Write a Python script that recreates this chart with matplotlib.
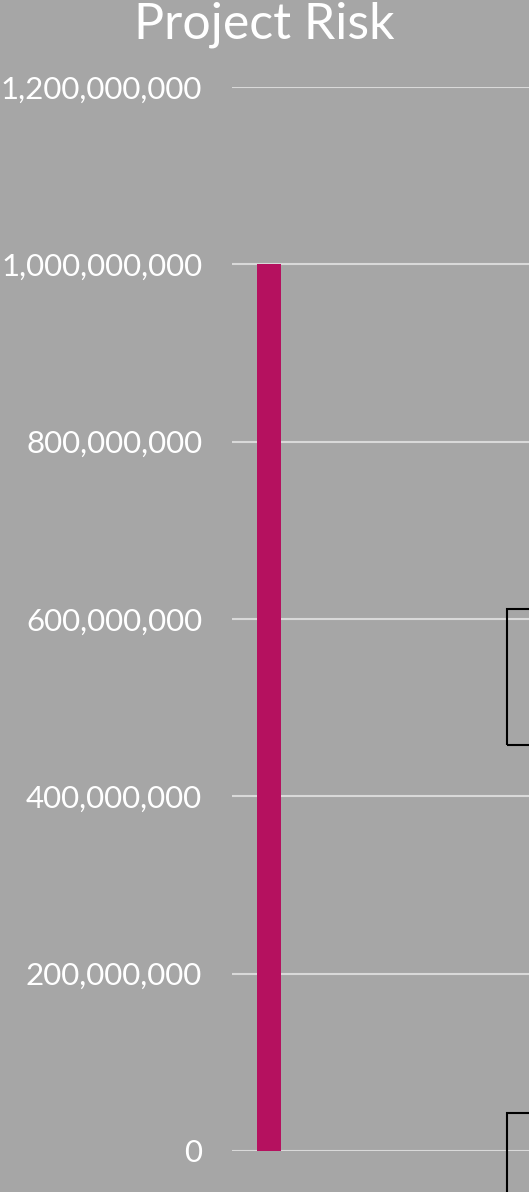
import matplotlib
matplotlib.use("Agg")
import matplotlib.pyplot as plt
from matplotlib.patches import Rectangle
from matplotlib.ticker import FuncFormatter

# data
categories = ["Risk"]
values = [1_000_000_000]
y_ticks = [0, 200_000_000, 400_000_000, 600_000_000, 800_000_000,
           1_000_000_000, 1_200_000_000]

bg = "#A6A6A6"
bar_color = "#B5115F"
grid_color = "#D9D9D9"

plt.rcParams['font.family'] = ['Lato', 'DejaVu Sans']

W, H = 529, 1192
fig = plt.figure(figsize=(W / 100, H / 100), dpi=100, facecolor=bg)

# plot area runs off the right edge of the picture
ax = fig.add_axes([232 / W, 41 / H, (W - 232) / W, 1064 / H])
ax.set_facecolor(bg)

ax.bar(range(len(categories)), values, width=1.0, color=bar_color, zorder=3)
x0 = -0.5 - 25 / 24
ax.set_xlim(x0, x0 + (W - 232) / 24)
ax.set_ylim(0, 1_200_000_000)

ax.set_yticks(y_ticks)
ax.yaxis.set_major_formatter(FuncFormatter(lambda v, p: f"{int(v):,}"))
ax.tick_params(axis='y', length=0, pad=21.5, labelsize=22.5, labelcolor='white')
ax.set_xticks([])
ax.grid(axis='y', color=grid_color, linewidth=1.5, zorder=0)
for s in ax.spines.values():
    s.set_visible(False)

fig.text(0.5, 1 - 25 / H, "Project Risk", ha='center', va='center',
         fontsize=36, color='white')

# clipped boxes at the right edge (legend frames)
for top, bottom in [(609, 745), (1113, 1200)]:
    fig.add_artist(Rectangle((507 / W, 1 - bottom / H), 60 / W, (bottom - top) / H,
                             transform=fig.transFigure, fill=False,
                             edgecolor='black', linewidth=1.5, clip_on=False))

fig.savefig("out.png", dpi=100, facecolor=bg)
